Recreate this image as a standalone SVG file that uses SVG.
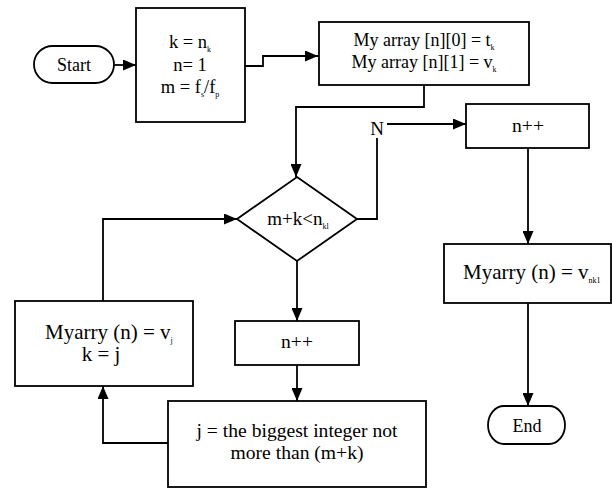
<svg xmlns="http://www.w3.org/2000/svg" width="612" height="491" viewBox="0 0 612 491">
  <style>
    .shape { fill: #ffffff; stroke: #000000; stroke-width: 1.8; }
    .link { fill: none; stroke: #000000; stroke-width: 1.8; }
    text { font-family: 'Liberation Serif', 'Times New Roman', Times, serif; font-size: 18px; fill: #000000; text-anchor: middle; }
    .sub { font-size: 8px; }
    .s185 { font-size: 18.5px; }
    .s19 { font-size: 19px; }
    .s195 { font-size: 19.6px; }
    .s21 { font-size: 21px; }
    .left { text-anchor: start; }
  </style>
  <defs>
    <marker id="arrow" viewBox="0 0 13 11" refX="13" refY="5.5" markerWidth="13" markerHeight="11" markerUnits="userSpaceOnUse" orient="auto">
      <path d="M0,0 L13,5.5 L0,11 Z" fill="#000000"/>
    </marker>
  </defs>

  <!-- connectors -->
  <g id="connectors">
    <path class="link" d="M114,65 H136" marker-end="url(#arrow)"/>
    <path class="link" d="M245,66 H263 V56 H318" marker-end="url(#arrow)"/>
    <path class="link" d="M424,85 V107 H296 V177" marker-end="url(#arrow)"/>
    <path class="link" d="M357,219 H377 V138"/>
    <path class="link" d="M387,124 H466" marker-end="url(#arrow)"/>
    <path class="link" d="M528,148 V244" marker-end="url(#arrow)"/>
    <path class="link" d="M528,303 V406" marker-end="url(#arrow)"/>
    <path class="link" d="M297,261 V321" marker-end="url(#arrow)"/>
    <path class="link" d="M297,365 V401" marker-end="url(#arrow)"/>
    <path class="link" d="M168,443 H103 V386" marker-end="url(#arrow)"/>
    <path class="link" d="M103,301 V219 H237" marker-end="url(#arrow)"/>
    <text class="s19" x="377" y="135">N</text>
  </g>

  <!-- start -->
  <g id="start">
    <rect class="shape" x="34" y="46" width="80" height="37" rx="18.5" ry="18.5"/>
    <text x="74" y="71">Start</text>
  </g>

  <!-- initialisation -->
  <g id="init">
    <rect class="shape" x="136" y="8" width="109" height="114"/>
    <text class="s185" x="190" y="48">k = n<tspan class="sub" dy="4">k</tspan></text>
    <text class="s185" x="190" y="71">n= 1</text>
    <text class="s185" x="190" y="93">m = f<tspan class="sub" dy="4">s</tspan><tspan dy="-4">/f</tspan><tspan class="sub" dy="4">p</tspan></text>
  </g>

  <!-- array assignment -->
  <g id="store">
    <rect class="shape" x="319" y="22" width="210" height="63"/>
    <text x="424" y="46">My array [n][0] = t<tspan class="sub" dy="4">k</tspan></text>
    <text x="424" y="68">My array [n][1] = v<tspan class="sub" dy="4">k</tspan></text>
  </g>

  <!-- loop condition -->
  <g id="condition">
    <path class="shape" d="M297,177 L357,219 L297,261 L237,219 Z"/>
    <text class="s19" x="298" y="225">m+k&lt;n<tspan class="sub" dy="4">kl</tspan></text>
  </g>

  <!-- increment, exit branch -->
  <g id="inc-exit">
    <rect class="shape" x="466" y="104" width="123" height="44"/>
    <text class="s195" x="528" y="132">n++</text>
  </g>

  <!-- final value -->
  <g id="final">
    <rect class="shape" x="444" y="244" width="167" height="59"/>
    <text class="s21 left" x="463" y="279">Myarry (n) = v<tspan class="sub" dy="4">nk1</tspan></text>
  </g>

  <!-- end -->
  <g id="end">
    <rect class="shape" x="488" y="406" width="77" height="38" rx="16" ry="19"/>
    <text x="527" y="432">End</text>
  </g>

  <!-- increment, loop branch -->
  <g id="inc-loop">
    <rect class="shape" x="235" y="321" width="124" height="44"/>
    <text class="s195" x="297" y="348">n++</text>
  </g>

  <!-- integer step -->
  <g id="step">
    <rect class="shape" x="168" y="401" width="258" height="86"/>
    <text class="s195" x="297" y="437">j = the biggest integer not</text>
    <text class="s195" x="297" y="459">more than (m+k)</text>
  </g>

  <!-- loop update -->
  <g id="update">
    <rect class="shape" x="15" y="301" width="178" height="85"/>
    <text class="s21 left" x="45" y="339">Myarry (n) = v<tspan class="sub" dy="4">j</tspan></text>
    <text class="s21" x="101" y="361">k = j</text>
  </g>
</svg>
